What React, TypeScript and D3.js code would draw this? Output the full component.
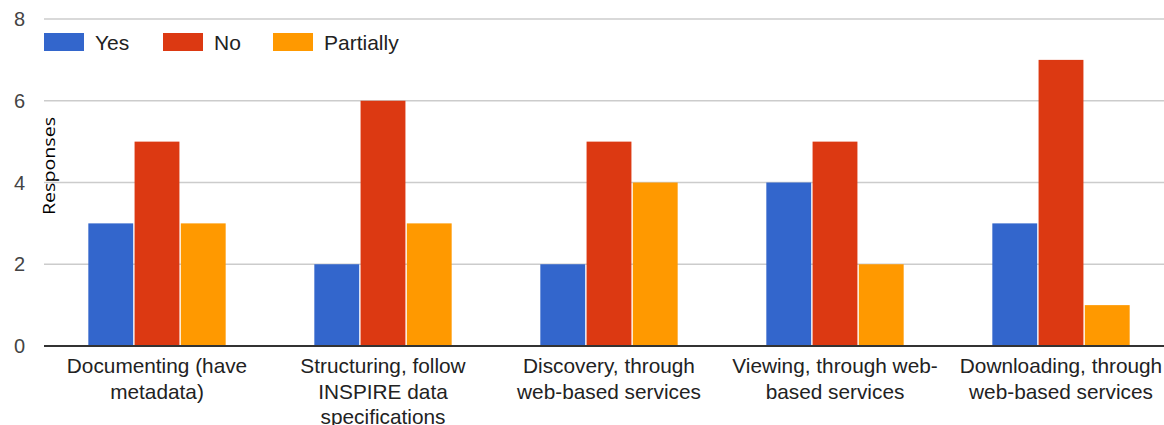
import React from "react";
import * as d3 from "d3";

const categories = [
  ["Documenting (have", "metadata)"],
  ["Structuring, follow", "INSPIRE data", "specifications"],
  ["Discovery, through", "web-based services"],
  ["Viewing, through web-", "based services"],
  ["Downloading, through", "web-based services"],
];
const series = ["Yes", "No", "Partially"];
const yesValues = [3, 2, 2, 4, 3];
const noValues = [5, 6, 5, 5, 7];
const partiallyValues = [3, 3, 4, 2, 1];
const yTicks = [0, 2, 4, 6, 8];
const colors = ["#3366cc", "#dc3912", "#ff9900"];

export default function App() {
  const W = 1164, H = 425;
  const left = 44, right = 1174, top = 19, bottom = 346;
  const values = [yesValues, noValues, partiallyValues];
  const x0 = d3.scaleBand<number>().domain(d3.range(categories.length)).range([left, right]).paddingInner(0.38).paddingOuter(0.19);
  const x1 = d3.scaleBand<number>().domain(d3.range(series.length)).range([0, x0.bandwidth()]).padding(0.03);
  const y = d3.scaleLinear().domain([0, 8]).range([bottom, top]);
  const font = "Arial, 'Liberation Sans', sans-serif";
  const legendX = [44, 163, 273];
  return (
    <svg width={W} height={H} style={{ position: "absolute", left: 0, top: 0, background: "#fff" }} fontFamily={font}>
      {yTicks.map((t) => (
        <g key={t}>
          {t !== 0 && <line x1={left} x2={W} y1={y(t)} y2={y(t)} stroke="#cccccc" strokeWidth={1.5} />}
          <text x={25} y={y(t)} dy="0.35em" textAnchor="end" fontSize={20} fill="#444">{t}</text>
        </g>
      ))}
      {categories.map((c, i) =>
        series.map((s, j) => (
          <rect key={i + "-" + j} x={(x0(i) ?? 0) + (x1(j) ?? 0)} y={y(values[j][i])} width={x1.bandwidth()} height={bottom - y(values[j][i])} fill={colors[j]} />
        ))
      )}
      <line x1={left} x2={W} y1={bottom} y2={bottom} stroke="#333" strokeWidth={2} />
      {categories.map((c, i) => (
        <text key={i} x={(x0(i) ?? 0) + x0.bandwidth() / 2} y={373} textAnchor="middle" fontSize={20.8} fill="#222">
          {c.map((line, k) => (
            <tspan key={k} x={(x0(i) ?? 0) + x0.bandwidth() / 2} dy={k === 0 ? 0 : 25.5}>{line}</tspan>
          ))}
        </text>
      ))}
      {series.map((s, j) => (
        <g key={s}>
          <rect x={legendX[j]} y={33} width={40} height={18} fill={colors[j]} />
          <text x={legendX[j] + 51} y={42} dy="0.36em" fontSize={21} fill="#222">{s}</text>
        </g>
      ))}
      <text transform={`translate(55,166) rotate(-90)`} textAnchor="middle" fontSize={17} textLength={98} lengthAdjust="spacingAndGlyphs" fill="#000" fontFamily="'Open Sans', 'DejaVu Sans', sans-serif">Responses</text>
    </svg>
  );
}
